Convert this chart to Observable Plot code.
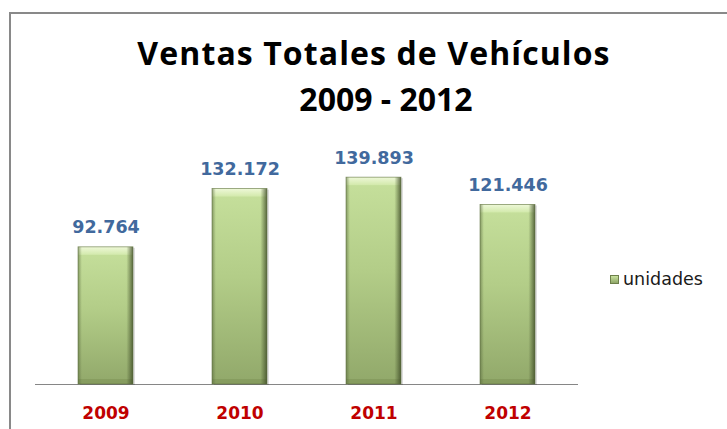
<!DOCTYPE html>
<html>
<head>
<meta charset="utf-8">
<script src="https://cdn.jsdelivr.net/npm/d3@7"></script>
<script src="https://cdn.jsdelivr.net/npm/@observablehq/plot@0.6"></script>
<style>
  body { margin: 0; background: #fff; }
  #wrap { position: relative; width: 727px; height: 429px; overflow: hidden; background: #fff; }
  #frame { position: absolute; left: 9px; top: 12px; width: 800px; height: 500px; border: 2px solid #898989; box-sizing: border-box; }
  #title { position: absolute; left: 0; width: 748px; top: 30px; text-align: center; font-family: "Open Sans", sans-serif; font-weight: bold; font-size: 32px; line-height: 46px; color: #000; white-space: nowrap; }
  #title .l1 { letter-spacing: 1.1px; word-spacing: 0px; }
  #title .l2 { letter-spacing: 0px; padding-left: 24px; }
  #chart { position: absolute; left: 0; top: 0; }
  #legend { position: absolute; left: 610px; top: 268px; font-family: "DejaVu Sans", sans-serif; font-size: 17.5px; line-height: 22px; color: #1a1a1a; white-space: nowrap; }
  #legend .sw { display: inline-block; width: 9px; height: 9px; margin-right: 4px; vertical-align: 1px; background: linear-gradient(#c8e29e, #8fa668); border: 1px solid #6d7f4a; box-sizing: border-box; }
</style>
</head>
<body>
<div id="wrap">
  <div id="frame"></div>
  <div id="chart"></div>
  <div id="title"><div class="l1">Ventas Totales de Vehículos</div><div class="l2">2009 - 2012</div></div>
  <div id="legend"><span class="sw"></span>unidades</div>
</div>
<script>
const years = ["2009", "2010", "2011", "2012"];
const unidades = [92764, 132172, 139893, 121446];
const seriesName = "unidades";

const data = years.map((y, i) => ({year: y, value: unidades[i]}));
const esFmt = d3.formatLocale({decimal: ",", thousands: ".", grouping: [3], currency: ["", "€"]}).format(",d");

const chart = Plot.plot({
  width: 727,
  height: 429,
  marginLeft: 35,
  marginRight: 149,
  marginTop: 177,
  marginBottom: 45,
  style: {fontFamily: "DejaVu Sans, sans-serif", background: "transparent"},
  x: {domain: years, paddingInner: 0.59, paddingOuter: 0.31},
  y: {domain: [0, 140000], axis: null},
  marks: [
    Plot.ruleY([0], {stroke: "#868686", strokeWidth: 1}),
    Plot.barY(data, {x: "year", y: "value", dx: 2, dy: 1, fill: "#000", fillOpacity: 0.13}),
    Plot.barY(data, {x: "year", y: "value", fill: "url(#gMain)"}),
    Plot.barY(data, {x: "year", y1: "value", y2: "value", insetBottom: -8, fill: "url(#gTop)"}),
    Plot.barY(data, {x: "year", y1: 0, y2: 0, insetTop: -5, fill: "#7f9557", fillOpacity: 0.6}),
    Plot.barY(data, {x: "year", y: "value", fill: "url(#gSide)", stroke: "#5f7040", strokeWidth: 0.8, strokeOpacity: 0.7}),
    Plot.text(data, {x: "year", y: "value", text: d => esFmt(d.value), lineAnchor: "bottom", dy: -14,
      fontSize: 17.5, fontWeight: "bold", fill: "#41699d"}),
    Plot.axisX({tickSize: 0, tickPadding: 22, fontSize: 17, fontWeight: "bold", fill: "#c00000", label: null})
  ]
});

const svg = d3.select(chart);
const defs = svg.insert("defs", ":first-child");
const gm = defs.append("linearGradient").attr("id", "gMain").attr("x1", 0).attr("y1", 0).attr("x2", 0).attr("y2", 1);
gm.append("stop").attr("offset", "0%").attr("stop-color", "#c6e09c");
gm.append("stop").attr("offset", "45%").attr("stop-color", "#b3cd88");
gm.append("stop").attr("offset", "100%").attr("stop-color", "#91a86a");
const gt = defs.append("linearGradient").attr("id", "gTop").attr("x1", 0).attr("y1", 0).attr("x2", 0).attr("y2", 1);
gt.append("stop").attr("offset", "0%").attr("stop-color", "#eef8d8");
gt.append("stop").attr("offset", "100%").attr("stop-color", "#d2e9ab");
const gs = defs.append("linearGradient").attr("id", "gSide").attr("x1", 0).attr("y1", 0).attr("x2", 1).attr("y2", 0);
gs.append("stop").attr("offset", "0%").attr("stop-color", "#55653a").attr("stop-opacity", 0.55);
gs.append("stop").attr("offset", "7%").attr("stop-color", "#55653a").attr("stop-opacity", 0);
gs.append("stop").attr("offset", "88%").attr("stop-color", "#45532c").attr("stop-opacity", 0);
gs.append("stop").attr("offset", "100%").attr("stop-color", "#3d4a26").attr("stop-opacity", 0.8);

document.getElementById("chart").appendChild(chart);
</script>
</body>
</html>
